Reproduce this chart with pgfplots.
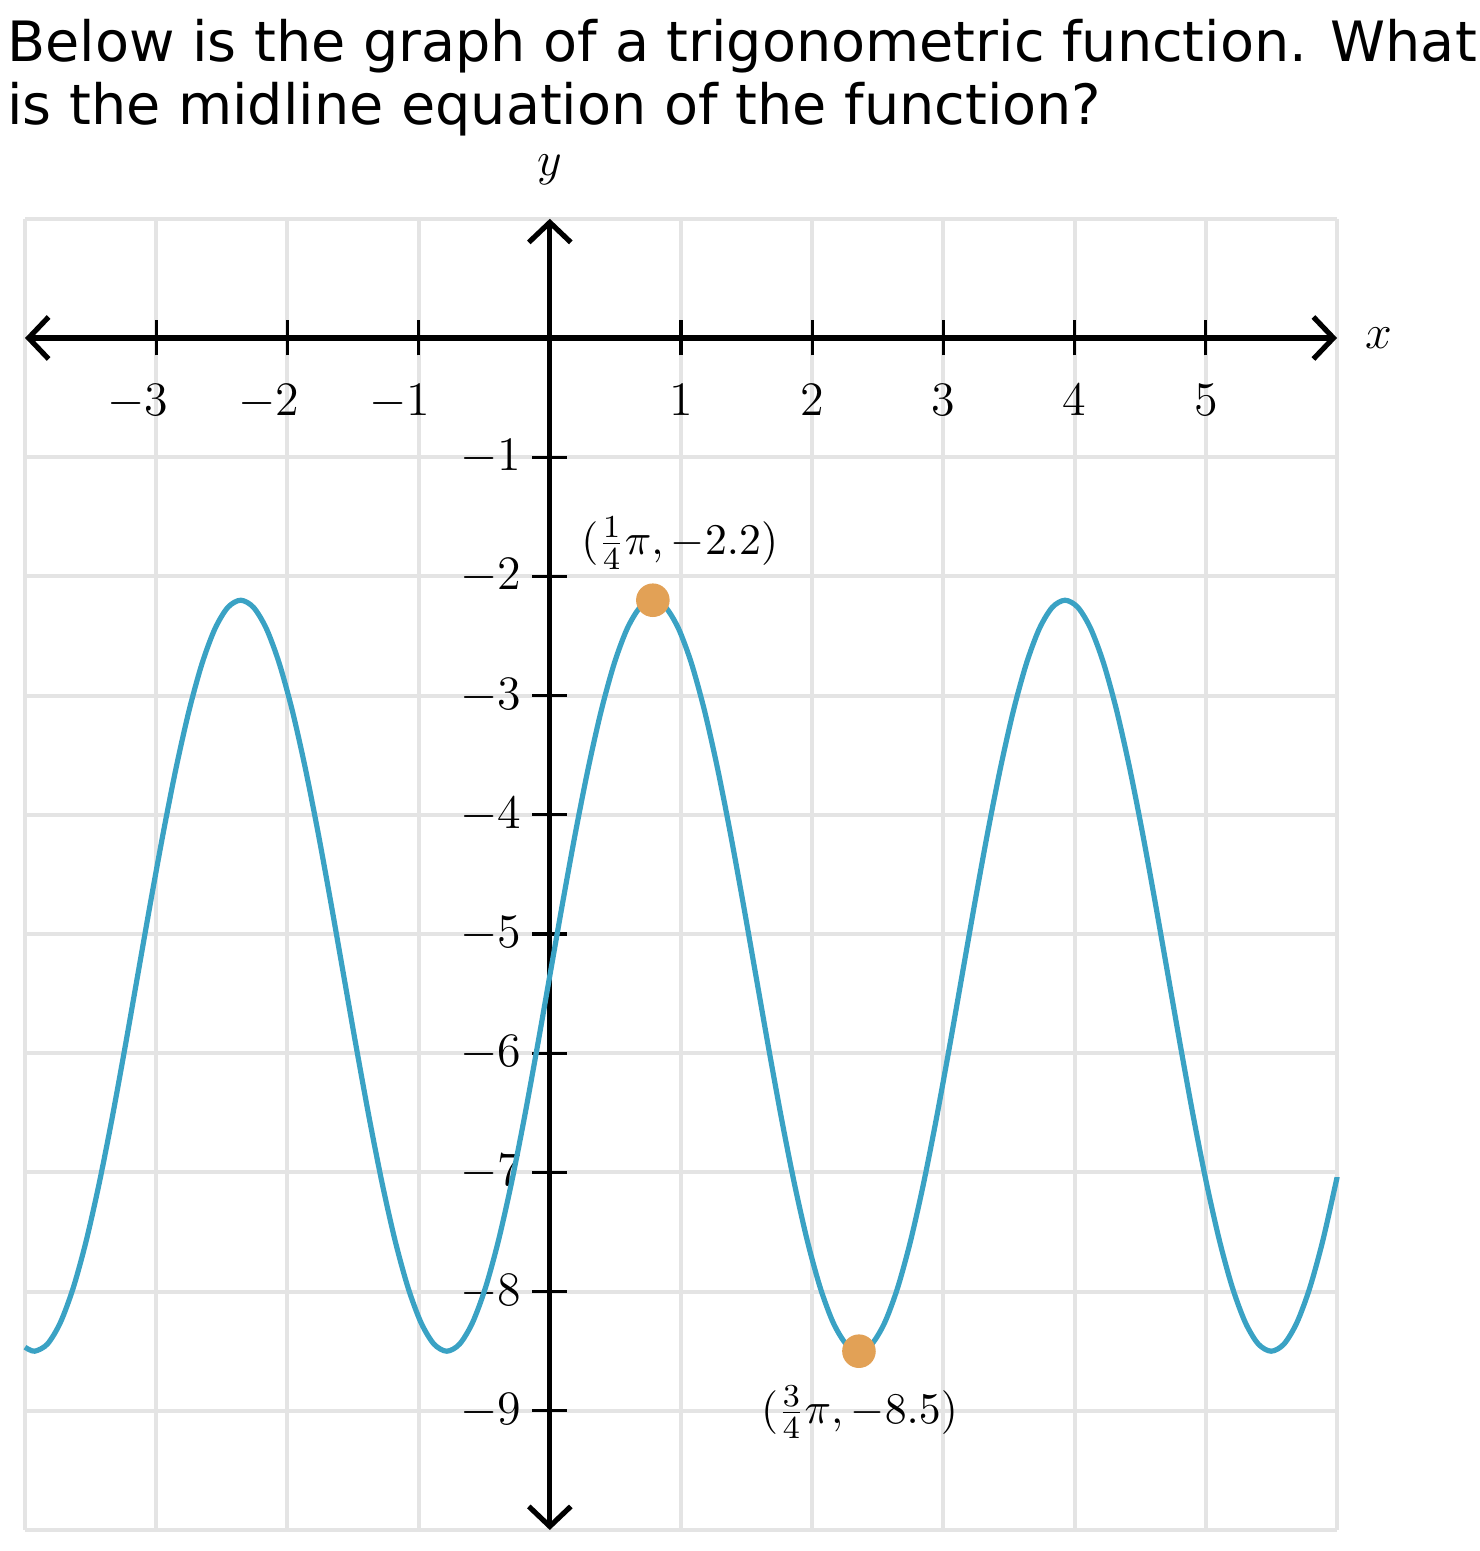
\documentclass[border=0pt]{standalone}
\usepackage{fontspec}
\newfontfamily\titlefont{DejaVu Sans}
\usepackage{pgfplots}
\pgfplotsset{compat=1.18}
\usetikzlibrary{arrows.meta}
\definecolor{curveblue}{RGB}{58,162,196}
\definecolor{dotorange}{RGB}{226,161,86}
\definecolor{gridgray}{RGB}{228,228,228}
\pgfplotsset{
  layers/mylayers/.define layer set={axis background,axis grid,axis tick labels,main,axis ticks,axis lines,axis descriptions,axis foreground}{},
}
\begin{document}
\begin{tikzpicture}
\begin{axis}[
  set layers=mylayers,
  x=32.8pt, y=29.8pt,
  xmin=-4, xmax=6, ymin=-10, ymax=1,
  enlargelimits=false,
  axis lines=middle,
  every inner x axis line/.append style={line width=1.3pt, <->, >={Straight Barb[length=5pt,width=10.5pt]}},
  every inner y axis line/.append style={line width=1.3pt, <->, >={Straight Barb[length=5pt,width=10.5pt]}},
  xtick={-3,-2,-1,1,2,3,4,5},
  xticklabels={\llap{$-$}$3$,\llap{$-$}$2$,\llap{$-$}$1$,$1$,$2$,$3$,$4$,$5$},
  ytick={-9,-8,-7,-6,-5,-4,-3,-2,-1},
  minor xtick={-4,-3,...,6},
  minor ytick={-10,-9,...,1},
  grid=both,
  major grid style={gridgray, line width=1pt},
  minor grid style={gridgray, line width=1pt},
  minor tick length=0pt,
  major tick length=8.75pt,
  tick align=center,
  tick style={black, line width=0.8pt},
  xticklabel style={font=\fontsize{11.5}{13}\selectfont, yshift=-3.75pt},
  yticklabel style={font=\fontsize{11.5}{13}\selectfont, xshift=0.75pt},
  clip=false,
]
\addplot[curveblue, line width=1.3pt, smooth] coordinates {
(-4.0000,-8.4665) (-3.9270,-8.5000) (-3.8288,-8.4395) (-3.7306,-8.2602) (-3.6325,-7.9691)
(-3.5343,-7.5774) (-3.4361,-7.1000) (-3.3379,-6.5555) (-3.2398,-5.9645) (-3.1416,-5.3500)
(-3.0434,-4.7355) (-2.9452,-4.1446) (-2.8471,-3.6000) (-2.7489,-3.1226) (-2.6507,-2.7309)
(-2.5525,-2.4398) (-2.4544,-2.2605) (-2.3562,-2.2000) (-2.2580,-2.2605) (-2.1598,-2.4398)
(-2.0617,-2.7309) (-1.9635,-3.1226) (-1.8653,-3.6000) (-1.7671,-4.1446) (-1.6690,-4.7355)
(-1.5708,-5.3500) (-1.4726,-5.9645) (-1.3744,-6.5555) (-1.2763,-7.1000) (-1.1781,-7.5774)
(-1.0799,-7.9691) (-0.9817,-8.2602) (-0.8836,-8.4395) (-0.7854,-8.5000) (-0.6872,-8.4395)
(-0.5890,-8.2602) (-0.4909,-7.9691) (-0.3927,-7.5774) (-0.2945,-7.1000) (-0.1963,-6.5555)
(-0.0982,-5.9645) (0.0000,-5.3500) (0.0982,-4.7355) (0.1963,-4.1446) (0.2945,-3.6000)
(0.3927,-3.1226) (0.4909,-2.7309) (0.5890,-2.4398) (0.6872,-2.2605) (0.7854,-2.2000)
(0.8836,-2.2605) (0.9817,-2.4398) (1.0799,-2.7309) (1.1781,-3.1226) (1.2763,-3.6000)
(1.3744,-4.1446) (1.4726,-4.7355) (1.5708,-5.3500) (1.6690,-5.9645) (1.7671,-6.5555)
(1.8653,-7.1000) (1.9635,-7.5774) (2.0617,-7.9691) (2.1598,-8.2602) (2.2580,-8.4395)
(2.3562,-8.5000) (2.4544,-8.4395) (2.5525,-8.2602) (2.6507,-7.9691) (2.7489,-7.5774)
(2.8471,-7.1000) (2.9452,-6.5555) (3.0434,-5.9645) (3.1416,-5.3500) (3.2398,-4.7355)
(3.3379,-4.1446) (3.4361,-3.6000) (3.5343,-3.1226) (3.6325,-2.7309) (3.7306,-2.4398)
(3.8288,-2.2605) (3.9270,-2.2000) (4.0252,-2.2605) (4.1233,-2.4398) (4.2215,-2.7309)
(4.3197,-3.1226) (4.4179,-3.6000) (4.5160,-4.1446) (4.6142,-4.7355) (4.7124,-5.3500)
(4.8106,-5.9645) (4.9087,-6.5555) (5.0069,-7.1000) (5.1051,-7.5774) (5.2033,-7.9691)
(5.3014,-8.2602) (5.3996,-8.4395) (5.4978,-8.5000) (5.5960,-8.4395) (5.6941,-8.2602)
(5.7923,-7.9691) (5.8905,-7.5774) (5.9887,-7.1000) (6.0000,-7.0402)
};
\addplot[only marks, mark=*, mark size=4pt, color=dotorange] coordinates {(0.7854,-2.2) (2.3562,-8.5)};
\node[font=\fontsize{11}{13}\selectfont] at (axis cs:0.99,-1.72) {$(\frac{1}{4}\pi, -2.2)$};
\node[font=\fontsize{11}{13}\selectfont] at (axis cs:2.36,-9.01) {$(\frac{3}{4}\pi, -8.5)$};
\node[font=\fontsize{12}{14}\selectfont] at (axis cs:6.32,0) {$x$};
\node[font=\fontsize{12}{14}\selectfont] at (axis cs:0,1.41) {$y$};
\end{axis}
\node[anchor=base west, inner sep=0pt, font=\titlefont\fontsize{13.9}{16}\selectfont] at (-4.6pt,367pt) {Below is the graph of a trigonometric function. What};
\node[anchor=base west, inner sep=0pt, font=\titlefont\fontsize{13.9}{16}\selectfont] at (-4.6pt,351.25pt) {is the midline equation of the function?};
\pgfresetboundingbox
\path (-6.25pt,-5.25pt) rectangle (363.5pt,382.5pt);
\end{tikzpicture}
\end{document}
